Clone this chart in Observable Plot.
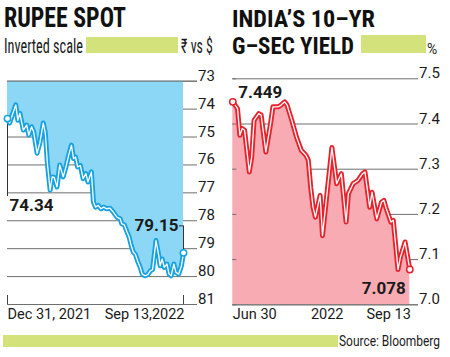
<!DOCTYPE html>
<html><head><meta charset="utf-8">
<script src="https://cdn.jsdelivr.net/npm/d3@7"></script>
<script src="https://cdn.jsdelivr.net/npm/@observablehq/plot@0.6"></script>
<style>
body{margin:0;background:#fff;}
#wrap{position:relative;width:450px;height:357px;overflow:hidden;background:#fff;font-family:Roboto,"Liberation Sans",sans-serif;color:#1a1a1a;}
.t{position:absolute;white-space:nowrap;line-height:1;transform-origin:0 0;}
.title{font-family:"Liberation Sans Narrow","Roboto Condensed","DejaVu Sans Condensed",Roboto,sans-serif;font-weight:700;font-size:28px;line-height:22px;color:#111;}
.title.sm{font-size:24px;}
.sub{font-family:"Liberation Sans Narrow","Roboto Condensed",Roboto,sans-serif;font-size:20px;font-weight:400;color:#1a1a1a;}
.bar{position:absolute;background:#d4e27c;}
.chart{position:absolute;top:60px;}
</style></head>
<body><div id="wrap">
 <div class="t title" data-w="122" style="left:4px;top:7.4px">RUPEE SPOT</div>
 <div class="t sub" data-w="79" style="left:4px;top:35.7px">Inverted scale</div>
 <div class="bar" style="left:86px;top:37px;width:92px;height:16px"></div>
 <div class="t sub" data-w="32" style="left:181px;top:35.7px">₹ vs $</div>
 <div class="t title sm" data-w="143" style="left:232px;top:7.9px">INDIA’S 10–YR</div>
 <div class="t title sm" data-w="122" style="left:232px;top:34.8px">G–SEC YIELD</div>
 <div class="bar" style="left:361px;top:35px;width:65px;height:18px"></div>
 <div class="t" style="left:427px;top:41.5px;font-size:14px">%</div>
 <div id="left" class="chart" style="left:0"></div>
 <div id="right" class="chart" style="left:225px"></div>
 <div class="bar" style="left:3px;top:335px;width:335px;height:12px"></div>
 <div class="t" data-w="101" style="left:339px;top:333.9px;font-size:14px">Source: Bloomberg</div>
</div>
<script>
// ---- data ----
const rupeeDates = ["2021-12-31","2022-01-03","2022-01-12","2022-01-15","2022-01-18","2022-01-23","2022-01-28","2022-01-31","2022-02-04","2022-02-07","2022-02-12","2022-02-16","2022-02-21","2022-02-24","2022-02-27","2022-03-03","2022-03-06","2022-03-09","2022-03-13","2022-03-17","2022-03-22","2022-03-26","2022-03-30","2022-04-03","2022-04-06","2022-04-09","2022-04-12","2022-04-16","2022-04-20","2022-04-24","2022-04-27","2022-05-02","2022-05-05","2022-05-08","2022-05-12","2022-05-16","2022-05-20","2022-05-24","2022-05-29","2022-06-03","2022-06-08","2022-06-13","2022-06-15","2022-06-19","2022-06-23","2022-06-26","2022-06-29","2022-07-02","2022-07-05","2022-07-09","2022-07-12","2022-07-15","2022-07-19","2022-07-23","2022-07-27","2022-07-30","2022-08-02","2022-08-04","2022-08-08","2022-08-10","2022-08-13","2022-08-16","2022-08-20","2022-08-23","2022-08-26","2022-08-30","2022-09-02","2022-09-06","2022-09-10","2022-09-13"];
const rupeeValues = [74.34,74.50,73.85,74.40,74.15,74.75,74.57,74.93,74.63,74.81,75.58,75.22,74.50,74.86,75.94,76.90,76.43,76.45,76.79,76.00,76.43,76.07,75.65,75.29,75.77,75.72,76.07,76.02,76.49,76.31,76.61,76.25,77.33,77.51,77.45,77.57,77.51,77.57,77.55,77.69,77.87,77.93,78.10,78.15,78.41,78.59,78.89,79.13,79.20,79.49,79.67,79.91,79.97,79.93,79.79,79.75,79.13,78.71,79.25,79.61,79.37,79.67,79.55,79.91,79.97,79.55,79.85,79.91,79.61,79.15];
const rupeeTicks = [73,74,75,76,77,78,79,80,81];
const rupeeXTickDates = ["2021-12-31","2022-09-13"];
const rupeeXTickLabels = ["Dec 31, 2021","Sep 13,2022"];

const yieldDates = ["2022-06-30","2022-07-02","2022-07-03","2022-07-04","2022-07-05","2022-07-07","2022-07-08","2022-07-09","2022-07-11","2022-07-12","2022-07-14","2022-07-16","2022-07-17","2022-07-19","2022-07-20","2022-07-22","2022-07-23","2022-07-25","2022-07-27","2022-07-29","2022-07-31","2022-08-01","2022-08-02","2022-08-03","2022-08-04","2022-08-06","2022-08-07","2022-08-11","2022-08-13","2022-08-15","2022-08-17","2022-08-18","2022-08-20","2022-08-22","2022-08-24","2022-08-25","2022-08-27","2022-08-28","2022-08-30","2022-09-01","2022-09-02","2022-09-03","2022-09-05","2022-09-06","2022-09-08","2022-09-09","2022-09-11","2022-09-13"];
const yieldValues = [7.449,7.434,7.375,7.390,7.386,7.294,7.327,7.408,7.423,7.420,7.338,7.401,7.438,7.438,7.440,7.449,7.442,7.408,7.371,7.342,7.331,7.320,7.260,7.216,7.194,7.242,7.153,7.348,7.268,7.290,7.183,7.246,7.268,7.275,7.290,7.294,7.216,7.249,7.190,7.227,7.231,7.213,7.183,7.187,7.078,7.105,7.139,7.078];
const yieldTicks = [7.0,7.1,7.2,7.3,7.4,7.5];
const yieldXTickDates = ["2022-06-30","2022-08-09","2022-09-13"];
const yieldXTickLabels = ["Jun 30","2022","Sep 13"];

// ---- build ----
const parse = d3.utcParse("%Y-%m-%d");
const rupee = rupeeDates.map((d,i)=>({date:parse(d), value:rupeeValues[i]}));
const yld = yieldDates.map((d,i)=>({date:parse(d), value:yieldValues[i]}));
const rX = rupeeXTickDates.map((d,i)=>({date:parse(d), label:rupeeXTickLabels[i]}));
const yX = yieldXTickDates.map((d,i)=>({date:parse(d), label:yieldXTickLabels[i]}));

const blueFill="#8dd7f6", blueLine="#15a2e3", pinkFill="#f8abb3", redLine="#e8222b", grid="#6f6f6f", ink="#1a1a1a";
const font = "Roboto, 'Liberation Sans', sans-serif";

const rFirst = rupee[0], rLast = rupee[rupee.length-1];
const L = Plot.plot({
  width:225, height:270, marginLeft:7, marginRight:28, marginTop:20.7, marginBottom:26,
  style:{background:"transparent", fontFamily:font, color:ink, overflow:"visible"},
  x:{type:"utc", domain:[rFirst.date, rLast.date], range:[7,183], axis:null},
  y:{domain:[73,81], range:[20.7,244], axis:null},
  marks:[
    Plot.ruleY(rupeeTicks, {stroke:grid, strokeWidth:1}),
    Plot.areaY(rupee, {x:"date", y1:73, y2:"value", fill:blueFill}),
    Plot.ruleY([73], {stroke:grid, strokeWidth:1}),
    Plot.tickX(rX, {x:"date", stroke:"#444", strokeWidth:1, insetTop:214.3}),
    Plot.text([rX[0]], {x:"date", text:"label", frameAnchor:"bottom", lineAnchor:"top", textAnchor:"start", dy:4, fontSize:14.5, fill:ink}),
    Plot.text([rX[1]], {x:"date", text:"label", frameAnchor:"bottom", lineAnchor:"top", textAnchor:"end", dx:1, dy:4, fontSize:14.5, fill:ink}),
    Plot.text(rupeeTicks, {y:d=>d, text:d=>String(d), frameAnchor:"right", textAnchor:"start", lineAnchor:"bottom", dx:0.5, dy:-0.5, fontSize:15, fill:ink}),
    // leaders
    Plot.ruleX([rFirst], {x:"date", y1:"value", y2:"value", insetBottom:-78, stroke:"#333", strokeWidth:1}),
    Plot.ruleX([rLast], {x:"date", y1:"value", y2:"value", insetTop:-27, stroke:"#333", strokeWidth:1}),
    Plot.ruleY([rLast], {y:"value", x1:"date", x2:"date", insetLeft:-4, dy:-27, stroke:"#333", strokeWidth:1}),
    Plot.line(rupee, {x:"date", y:"value", stroke:blueLine, strokeWidth:5, strokeLinejoin:"round"}),
    Plot.line(rupee, {x:"date", y:"value", stroke:"#fff", strokeWidth:1.3, strokeLinejoin:"round"}),
    Plot.dot([rFirst, rLast], {x:"date", y:"value", r:3.2, fill:"#fff", stroke:blueLine, strokeWidth:1.5}),
    Plot.text([rFirst], {x:"date", y:"value", text:d=>d.value.toFixed(2), textAnchor:"start", lineAnchor:"top", dx:2, dy:80, fontSize:17, fontWeight:700, fill:ink}),
    Plot.text([rLast], {x:"date", y:"value", text:d=>d.value.toFixed(2), textAnchor:"end", lineAnchor:"middle", dx:-5, dy:-27, fontSize:17, fontWeight:700, fill:ink})
  ]
});
document.getElementById("left").appendChild(L);

const yFirst = yld[0], yLast = yld[yld.length-1];
const R = Plot.plot({
  width:225, height:270, marginLeft:7.3, marginRight:32, marginTop:18.3, marginBottom:25.7,
  style:{background:"transparent", fontFamily:font, color:ink, overflow:"visible"},
  x:{type:"utc", domain:[yFirst.date, yLast.date], range:[7.3,184.3], axis:null},
  y:{domain:[7.0,7.5], range:[244.3,18.3], axis:null},
  marks:[
    Plot.ruleY(yieldTicks, {stroke:grid, strokeWidth:1}),
    Plot.areaY(yld, {x:"date", y1:7.0, y2:"value", fill:pinkFill}),
    Plot.ruleY(yieldTicks, {stroke:grid, strokeWidth:1, insetRight:181.7}),
    Plot.ruleY([7.0], {stroke:grid, strokeWidth:1}),
    Plot.text([yX[0]], {x:"date", text:"label", frameAnchor:"bottom", lineAnchor:"top", textAnchor:"start", dy:4, fontSize:14.5, fill:ink}),
    Plot.text([yX[1]], {x:"date", text:"label", frameAnchor:"bottom", lineAnchor:"top", textAnchor:"middle", dy:4, fontSize:14.5, fill:ink}),
    Plot.text([yX[2]], {x:"date", text:"label", frameAnchor:"bottom", lineAnchor:"top", textAnchor:"end", dx:1, dy:4, fontSize:14.5, fill:ink}),
    Plot.text(yieldTicks, {y:d=>d, text:d=>d.toFixed(1), frameAnchor:"right", textAnchor:"start", lineAnchor:"bottom", dx:0.5, dy:-0.5, fontSize:15, fill:ink}),
    Plot.line(yld, {x:"date", y:"value", stroke:redLine, strokeWidth:5, strokeLinejoin:"round"}),
    Plot.line(yld, {x:"date", y:"value", stroke:"#fff", strokeWidth:1.3, strokeLinejoin:"round"}),
    Plot.dot([yFirst, yLast], {x:"date", y:"value", r:3.2, fill:"#fff", stroke:redLine, strokeWidth:1.5}),
    Plot.text([yFirst], {x:"date", y:"value", text:d=>d.value.toFixed(3), textAnchor:"start", lineAnchor:"bottom", dx:5.5, dy:-4, fontSize:17, fontWeight:700, fill:ink}),
    Plot.text([yLast], {x:"date", y:"value", text:d=>d.value.toFixed(3), textAnchor:"end", lineAnchor:"bottom", dx:-4, dy:24.4, fontSize:17, fontWeight:700, fill:ink})
  ]
});
document.getElementById("right").appendChild(R);

// fit condensed headline text to the reference widths
function fit(){
  document.querySelectorAll("[data-w]").forEach(el=>{
    el.style.transform="none";
    const w = el.getBoundingClientRect().width;
    const target = +el.dataset.w;
    if (w>0) el.style.transform = `scaleX(${target/w})`;
  });
}
fit();
if (document.fonts && document.fonts.ready) document.fonts.ready.then(fit);
</script>
</body></html>
